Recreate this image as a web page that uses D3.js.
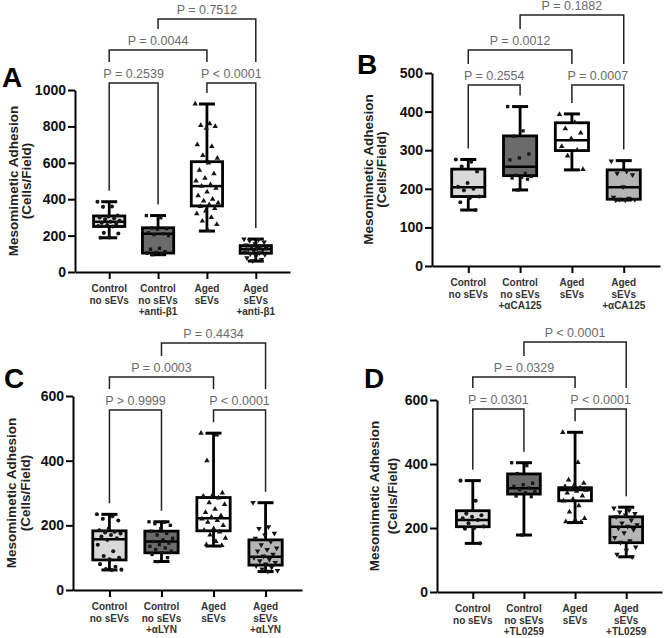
<!DOCTYPE html>
<html lang="en">
<head>
<meta charset="UTF-8">
<title>Mesomimetic Adhesion</title>
<script src="https://d3js.org/d3.v7.min.js"></script>
<style>
  body { margin: 0; background: #fff; }
  svg { display: block; font-family: 'Liberation Sans', Arial, sans-serif; }
</style>
</head>
<body>
<svg id="chart" width="669" height="638"></svg>
<script>
// treatment added in groups 2 and 4 of each panel
const treatments = ["+anti-β1", "+αCA125", "+αLYN", "+TL0259"];

// y ticks
const ticksA = [0, 200, 400, 600, 800, 1000];
const ticksB = [0, 100, 200, 300, 400, 500];
const ticksC = [0, 200, 400, 600];
const ticksD = [0, 200, 400, 600];

// box stats per group: [min, q1, median, q3, max]
const boxA = [[188, 250, 276, 308, 386], [95, 104, 210, 243, 310], [225, 363, 472, 606, 923], [60, 103, 126, 145, 181]];
const boxB = [[145, 180, 204, 251, 276], [197, 234, 257, 337, 413], [249, 299, 326, 371, 394], [171, 173, 204, 249, 273]];
const boxC = [[62, 93, 157, 183, 234], [88, 115, 150, 182, 211], [136, 183, 222, 286, 485], [57, 77, 103, 155, 270]];
const boxD = [[152, 204, 225, 254, 348], [178, 306, 324, 369, 404], [217, 285, 319, 326, 499], [110, 154, 204, 235, 265]];

// individual fields
const ptsA = [
  [386, 360, 358, 310, 305, 300, 296, 290, 282, 276, 270, 265, 258, 252, 250, 215, 212, 190, 188],
  [310, 298, 242, 238, 235, 215, 210, 205, 200, 130, 125, 112, 108, 104, 100, 95],
  [923, 815, 805, 800, 790, 700, 690, 640, 625, 600, 560, 540, 515, 500, 480, 472, 460, 440, 420, 400, 390, 380, 370, 360, 350, 335, 320, 300, 280, 262, 228],
  [181, 178, 172, 165, 155, 148, 143, 138, 132, 128, 125, 120, 115, 110, 105, 100, 95, 88, 78, 68, 62]
];
const ptsB = [
  [276, 270, 258, 245, 215, 205, 200, 196, 180, 176, 165, 145],
  [413, 350, 336, 290, 280, 275, 240, 235, 232, 230, 228, 225, 197],
  [393, 372, 356, 345, 330, 310, 300, 285, 250],
  [272, 245, 240, 236, 205, 178, 175, 173, 172, 171, 171]
];
const ptsC = [
  [234, 228, 220, 215, 190, 185, 180, 178, 175, 170, 165, 160, 155, 140, 120, 105, 100, 95, 80, 72, 65, 63, 62],
  [211, 210, 205, 200, 190, 182, 175, 170, 160, 155, 150, 145, 140, 135, 130, 125, 120, 115, 110, 100, 88],
  [485, 480, 400, 300, 295, 290, 285, 270, 265, 250, 240, 230, 225, 220, 215, 210, 200, 190, 185, 180, 170, 160, 150, 140, 138],
  [270, 195, 190, 175, 170, 160, 150, 140, 130, 125, 120, 110, 105, 100, 95, 90, 85, 80, 75, 70, 65, 60, 58]
];
const ptsD = [
  [348, 285, 245, 240, 235, 230, 225, 215, 205, 200, 198, 152],
  [404, 395, 370, 340, 335, 330, 325, 320, 315, 310, 300, 298, 178],
  [499, 405, 350, 340, 335, 330, 325, 320, 318, 315, 310, 300, 290, 285, 270, 250, 230, 225, 220, 218],
  [262, 255, 250, 245, 240, 235, 225, 215, 210, 205, 200, 195, 185, 170, 160, 155, 140, 130, 118, 110]
];

// p values: [1 vs 2, 3 vs 4, 1 vs 3, 2 vs 4]
const pA = ["P = 0.2539", "P < 0.0001", "P = 0.0044", "P = 0.7512"];
const pB = ["P = 0.2554", "P = 0.0007", "P = 0.0012", "P = 0.1882"];
const pC = ["P > 0.9999", "P < 0.0001", "P = 0.0003", "P = 0.4434"];
const pD = ["P = 0.0301", "P < 0.0001", "P = 0.0329", "P < 0.0001"];

const pairs = [[0, 1], [2, 3], [0, 2], [1, 3]];
const pairTier = [0, 0, 1, 2];

const fills = ["#d9d9d9", "#6b6b6b", "#ffffff", "#b5b5b5"];
const shapes = [d3.symbolCircle, d3.symbolSquare, d3.symbolTriangle, d3.symbolTriangle];

const panels = [
  {letter: "A", lx: 2, ly: 87, box: boxA, pts: ptsA, p: pA, ticks: ticksA, treat: treatments[0],
   x0: 75, x1: 290, yb: 272, yt: 90, tiers: [83, 50, 19], t1: -62, t2: -49},
  {letter: "B", lx: 357, ly: 74, box: boxB, pts: ptsB, p: pB, ticks: ticksB, treat: treatments[1],
   x0: 432, x1: 660, yb: 266, yt: 73, tiers: [85, 50, 15], t1: -64, t2: -51},
  {letter: "C", lx: 4, ly: 388, box: boxC, pts: ptsC, p: pC, ticks: ticksC, treat: treatments[2],
   x0: 73, x1: 302, yb: 590, yt: 396, tiers: [410, 377, 343], t1: -62, t2: -48},
  {letter: "D", lx: 364, ly: 388, box: boxD, pts: ptsD, p: pD, ticks: ticksD, treat: treatments[3],
   x0: 437, x1: 662, yb: 592, yt: 400, tiers: [409, 377, 342], t1: -63, t2: -45}
];

const svg = d3.select("#chart");

panels.forEach(P => {
  const g = svg.append("g");
  const cats = [0, 1, 2, 3];
  const x = d3.scalePoint().domain(cats).range([P.x0, P.x1]).padding(0.7);
  const y = d3.scaleLinear().domain([0, d3.max(P.ticks)]).range([P.yb, P.yt]);
  const bw = x.step() * 0.64;

  // y axis
  const ya = g.append("g").attr("transform", `translate(${P.x0},0)`)
    .call(d3.axisLeft(y).tickValues(P.ticks).tickFormat(d3.format("d"))
      .tickSize(7).tickSizeOuter(0).tickPadding(2));
  ya.selectAll("path, line").attr("stroke", "#000").attr("stroke-width", 2);
  ya.selectAll("text").attr("font-size", 14).attr("font-weight", "bold").attr("fill", "#111")
    .attr("font-family", "'Liberation Sans', Arial, sans-serif");

  // x axis
  const xa = g.append("g").attr("transform", `translate(0,${P.yb})`)
    .call(d3.axisBottom(x).tickSize(7).tickSizeOuter(0));
  xa.selectAll("path, line").attr("stroke", "#000").attr("stroke-width", 2);
  xa.selectAll("text").remove();
  const labels = [["Control", "no sEVs"], ["Control", "no sEVs", P.treat], ["Aged", "sEVs"], ["Aged", "sEVs", P.treat]];
  labels.forEach((lines, i) => {
    const t = g.append("text").attr("text-anchor", "middle").attr("font-size", 10)
      .attr("font-weight", "bold").attr("fill", "#333");
    lines.forEach((s, k) => t.append("tspan").attr("x", x(i)).attr("y", P.yb + 20 + k * 11.7).text(s));
  });

  // y title
  const cy = (P.yb + P.yt) / 2;
  g.append("text").attr("transform", `translate(${P.x0 + P.t1},${cy}) rotate(-90)`)
    .attr("text-anchor", "middle").attr("dominant-baseline", "central")
    .attr("font-size", 13.5).attr("font-weight", "bold").attr("fill", "#222")
    .text("Mesomimetic Adhesion");
  g.append("text").attr("transform", `translate(${P.x0 + P.t2},${cy}) rotate(-90)`)
    .attr("text-anchor", "middle").attr("dominant-baseline", "central")
    .attr("font-size", 13.5).attr("font-weight", "bold").attr("fill", "#222")
    .text("(Cells/Field)");

  // panel letter
  g.append("text").attr("x", P.lx).attr("y", P.ly).attr("font-size", 28)
    .attr("font-weight", "bold").attr("fill", "#000").text(P.letter);

  // boxes
  P.box.forEach((b, i) => {
    const cx = x(i);
    const bg = g.append("g");
    bg.append("rect").attr("x", cx - bw / 2).attr("y", y(b[3]))
      .attr("width", bw).attr("height", y(b[1]) - y(b[3]))
      .attr("fill", fills[i]).attr("stroke", "#000").attr("stroke-width", 2.8);
    bg.append("line").attr("x1", cx).attr("x2", cx).attr("y1", y(b[4])).attr("y2", y(b[3]))
      .attr("stroke", "#000").attr("stroke-width", 2.8);
    bg.append("line").attr("x1", cx).attr("x2", cx).attr("y1", y(b[1])).attr("y2", y(b[0]))
      .attr("stroke", "#000").attr("stroke-width", 2.8);
    [b[0], b[4]].forEach(v => bg.append("line").attr("x1", cx - 8).attr("x2", cx + 8)
      .attr("y1", y(v)).attr("y2", y(v)).attr("stroke", "#000").attr("stroke-width", 3));
    bg.append("line").attr("x1", cx - bw / 2).attr("x2", cx + bw / 2)
      .attr("y1", y(b[2])).attr("y2", y(b[2])).attr("stroke", "#000").attr("stroke-width", 2.5);

    // points, spread across box width
    const sym = d3.symbol().type(shapes[i]).size(i === 1 ? 11 : 13);
    bg.selectAll(".pt").data(P.pts[i]).enter().append("path")
      .attr("class", "pt")
      .attr("d", sym)
      .attr("fill", "#151515")
      .attr("transform", (d, k) => {
        const off = (((k * 0.618) % 1) - 0.5) * bw * 0.75;
        return `translate(${cx + off},${y(d)})` + (i === 3 ? " rotate(180)" : "");
      });
  });

  // significance brackets
  pairs.forEach((pr, j) => {
    const t = pairTier[j];
    const hy = P.tiers[t];
    const legEnd = c => {
      for (let k = t - 1; k >= 0; k--) {
        const hit = pairs.some((q, m) => pairTier[m] === k && q[0] <= c && c <= q[1]);
        if (hit) return P.tiers[k] - 21;
      }
      return y(P.box[c][4]) - 11;
    };
    const xa1 = x(pr[0]), xa2 = x(pr[1]);
    g.append("path")
      .attr("d", `M${xa1},${legEnd(pr[0])}V${hy}H${xa2}V${legEnd(pr[1])}`)
      .attr("fill", "none").attr("stroke", "#222").attr("stroke-width", 1.5);
    g.append("text").attr("x", (xa1 + xa2) / 2).attr("y", hy - 5)
      .attr("text-anchor", "middle").attr("font-size", 12.5).attr("fill", "#6a6a6a")
      .text(P.p[j]);
  });
});
</script>
</body>
</html>
